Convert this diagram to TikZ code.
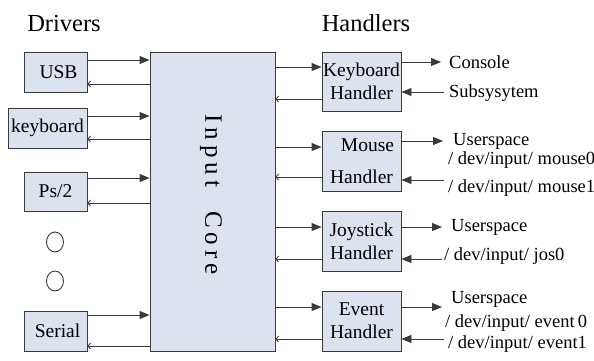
\documentclass[tikz,border=0pt]{standalone}
\usepackage{fontspec}
\setmainfont{Liberation Serif}
\newfontfamily\tms{Liberation Serif}
\usetikzlibrary{arrows.meta,shapes.geometric}
\definecolor{boxfill}{HTML}{DCE2EE}
\definecolor{edge}{HTML}{3A3A3A}
\begin{document}
\begin{tikzpicture}[x=1pt,y=-1pt,
 box/.style={draw=edge,fill=boxfill,line width=0.9pt,inner sep=0pt,align=center,font=\tms\fontsize{19.5}{23}\selectfont},
 fwd/.style={draw=edge,line width=0.9pt,-{Triangle[length=10pt,width=8pt]}},
 bwd/.style={draw=edge,line width=0.9pt,-{Straight Barb[length=2.5pt,width=6pt]}},
 lbl/.style={anchor=west,inner sep=0pt,font=\tms\fontsize{18.5}{22}\selectfont},
 head/.style={anchor=base,inner sep=0pt,font=\tms\fontsize{24.5}{28}\selectfont},
 dot/.style={ellipse,draw=edge,line width=0.9pt,minimum width=17pt,minimum height=20pt,inner sep=0pt}]
\useasboundingbox (0,0) rectangle (594,360);

% headings
\node[head] (drv) at (64,31) {Drivers};
\node[head] (hdl) at (366,31) {Handlers};

% drivers
\node[box,minimum width=63pt,minimum height=40pt] (usb) at (55.5,72) {\hspace*{6pt}USB};
\node[box,minimum width=79pt,minimum height=40pt] (kbd) at (47.5,128) {keyboard};
\node[box,minimum width=63pt,minimum height=39pt] (ps2) at (55.5,191.5) {Ps/2};
\node[dot] (d1) at (55,242) {};
\node[dot] (d2) at (55,281) {};
\node[box,minimum width=63pt,minimum height=40pt] (ser) at (55.5,331) {\hspace*{4pt}Serial};

% core
\node[box,minimum width=125pt,minimum height=299pt] (core) at (212.5,201.5) {};
\node[rotate=-90,inner sep=0pt,font=\tms\fontsize{25}{28}\selectfont] (coretxt) at (211,194.5)
  {I\hspace{5pt}n\hspace{5pt}p\hspace{5pt}u\hspace{5pt}t\hspace{24pt}C\hspace{5pt}o\hspace{5pt}r\hspace{5pt}e};

% handlers
\node[box,minimum width=79pt,minimum height=59pt] (kh) at (361.5,81.5) {Keyboard\\Handler};
\node[box,minimum width=79pt,minimum height=60pt,font=\tms\fontsize{19.5}{32}\selectfont] (mh) at (361.5,161) {\hspace*{12pt}Mouse\\Handler};
\node[box,minimum width=79pt,minimum height=60pt] (jh) at (361.5,241) {Joystick\\Handler};
\node[box,minimum width=79pt,minimum height=60pt] (eh) at (361.5,321) {Event\\Handler};

% driver <-> core
\draw[fwd] (usb.east |- 0,60) -- (core.west |- 0,60);
\draw[bwd] (core.west |- 0,84) -- (usb.east |- 0,84);
\draw[fwd] (kbd.east |- 0,116) -- (core.west |- 0,116);
\draw[bwd] (core.west |- 0,139) -- (kbd.east |- 0,139);
\draw[fwd] (ps2.east |- 0,178) -- (core.west |- 0,178);
\draw[bwd] (core.west |- 0,203) -- (ps2.east |- 0,203);
\draw[fwd] (ser.east |- 0,315) -- (core.west |- 0,315);
\draw[bwd] (core.west |- 0,346) -- (ser.east |- 0,346);

% core <-> handlers
\draw[fwd] (core.east |- 0,67) -- (kh.west |- 0,67);
\draw[bwd] (kh.west |- 0,99) -- (core.east |- 0,99);
\draw[fwd] (core.east |- 0,147) -- (mh.west |- 0,147);
\draw[bwd] (mh.west |- 0,177) -- (core.east |- 0,177);
\draw[fwd] (core.east |- 0,227) -- (jh.west |- 0,227);
\draw[bwd] (jh.west |- 0,259) -- (core.east |- 0,259);
\draw[fwd] (core.east |- 0,307) -- (eh.west |- 0,307);
\draw[bwd] (eh.west |- 0,339) -- (core.east |- 0,339);

% right labels
\node[lbl] (con) at (449,62) {Console};
\node[lbl] (sub) at (449,93) {Subsysytem};
\node[lbl] (mu) at (453,141) {Userspace};
\node[lbl] (m0) at (448,160) {/ dev/input/ mouse0};
\node[lbl] (m1) at (448,188) {/ dev/input/ mouse1};
\node[lbl] (ju) at (451,227) {Userspace};
\node[lbl] (j0) at (444,256) {/ dev/input/ jos0};
\node[lbl] (eu) at (451,299) {Userspace};
\node[lbl] (e0) at (445,323) {/ dev/input/ event\,0};
\node[lbl] (e1) at (448,344) {/ dev/input/ event1};

\coordinate (c1) at (441,62);
\coordinate (c2) at (444,92);
\coordinate (c3) at (443,141);
\coordinate (c4) at (444,180);
\coordinate (c5) at (442,227);
\coordinate (c6) at (442,259);
\coordinate (c7) at (442,307);
\coordinate (c8) at (444,339);

\draw[fwd] (kh.east |- c1) -- (c1);
\draw[fwd] (c2) -- (kh.east |- c2);
\draw[fwd] (mh.east |- c3) -- (c3);
\draw[fwd] (c4) -- (mh.east |- c4);
\draw[fwd] (jh.east |- c5) -- (c5);
\draw[fwd] (c6) -- (jh.east |- c6);
\draw[fwd] (eh.east |- c7) -- (c7);
\draw[fwd] (c8) -- (eh.east |- c8);
\end{tikzpicture}
\end{document}
